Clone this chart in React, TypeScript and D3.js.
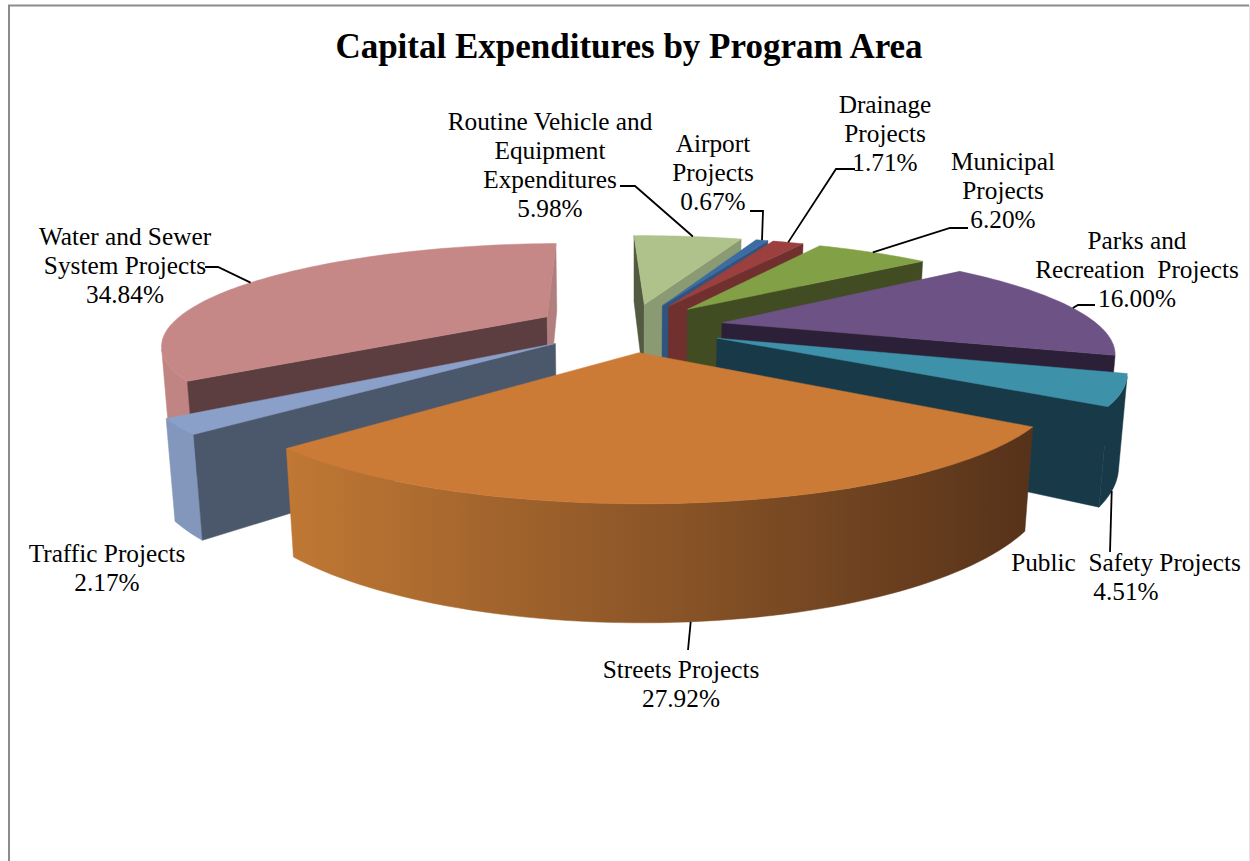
import React from "react";
import * as d3 from "d3";

const categories = [
  "Routine Vehicle and Equipment Expenditures",
  "Airport Projects",
  "Drainage Projects",
  "Municipal Projects",
  "Parks and Recreation  Projects",
  "Public  Safety Projects",
  "Streets Projects",
  "Traffic Projects",
  "Water and Sewer System Projects",
];
const percents = [5.98, 0.67, 1.71, 6.2, 16.0, 4.51, 27.92, 2.17, 34.84];
const labelLines = [
  ["Routine Vehicle and", "Equipment", "Expenditures"],
  ["Airport", "Projects"],
  ["Drainage", "Projects"],
  ["Municipal", "Projects"],
  ["Parks and", "Recreation  Projects"],
  ["Public  Safety Projects"],
  ["Streets Projects"],
  ["Traffic Projects"],
  ["Water and Sewer", "System Projects"],
];
const topColors = ["#b0c28c", "#3d6ba3", "#9b403e", "#82a046", "#6c5285", "#3d91a9", "#cb7b36", "#8aa0c8", "#c58886"];
const startWall = ["#525a40", "#2f5480", "#6f302e", "#414c22", "#2c2038", "#183a48", "#56321a", "#4b586c", "#5c3e40"];
const endWall = ["#8a9a72", "#2f5480", "#6f302e", "#414c22", "#2c2038", "#183a48", "#bb7433", "#4b586c", "#b17f7e"];
const rimWall = [
  ["#b0c28c", "#b0c28c"],
  ["#3d6ba3", "#3d6ba3"],
  ["#9b403e", "#9b403e"],
  ["#82a046", "#82a046"],
  ["#6c5285", "#6c5285"],
  ["#183a48", "#183a48"],
  ["#56321a", "#c07834"],
  ["#8297bb", "#8297bb"],
  ["#c08482", "#c08482"],
];

// label placement: centre x, first baseline, leader elbow points, nudge of the anchor
const labelBoxes = [
  { x: 550, y: 130, leader: [[620, 186], [635, 186]], nudge: 1, level: 0 },
  { x: 713, y: 152, leader: [[750, 211], [763, 211]], nudge: 0, level: 0 },
  { x: 885, y: 113, leader: [[855, 169], [836, 169]], nudge: 0, level: 0 },
  { x: 1003, y: 170, leader: [[968, 228], [950, 228]], nudge: 0, level: 0 },
  { x: 1137, y: 249, leader: [[1095, 305], [1078, 305]], nudge: 1, level: 0 },
  { x: 1126, y: 571, leader: [[1110, 552]], nudge: 1.5, level: 1 },
  { x: 681, y: 678, leader: [[688, 650]], nudge: -0.2, level: 1 },
  { x: 107, y: 562, leader: null, nudge: 0, level: 0 },
  { x: 125, y: 245, leader: [[205, 267], [218, 267]], nudge: -1.5, level: 0 },
];

const width = 1250;
const height = 861;
const rad = (deg: number) => (deg * Math.PI) / 180;

// camera for the tilted pie, radius = 1
const cx = 630;
const cy = 327;
const elevation = rad(14.8);
const camDist = 3.8;
const focal = 378 * camDist;
const explode = 0.25;
const thickness = 0.235;

const project = (x: number, y: number, z: number): [number, number] => {
  const w = y * Math.cos(elevation) + z * Math.sin(elevation);
  const u = z * Math.cos(elevation) - y * Math.sin(elevation);
  const s = focal / (camDist - w);
  return [cx + x * s, cy - u * s];
};

const shoelace = (p: [number, number][]) =>
  d3.sum(p, (d, i) => {
    const n = p[(i + 1) % p.length];
    return d[0] * n[1] - n[0] * d[1];
  });

const pie = d3
  .pie<number>()
  .sort(null)
  .startAngle(rad(-1.5))
  .endAngle(rad(358.5));
const line = d3.line();
const closed = (p: [number, number][]) => line(p) + "Z";

const slices = pie(percents).map((arc, i) => {
  const mid = (arc.startAngle + arc.endAngle) / 2;
  const ox = explode * Math.sin(mid);
  const oy = -explode * Math.cos(mid);
  const steps = Math.max(2, Math.ceil((arc.endAngle - arc.startAngle) / rad(1.5)));
  const angles = d3.range(steps + 1).map((k) => arc.startAngle + ((arc.endAngle - arc.startAngle) * k) / steps);
  const rimAt = (a: number, z: number) => project(ox + Math.sin(a), oy - Math.cos(a), z);
  const top = angles.map((a) => rimAt(a, 0));
  const bottom = angles.map((a) => rimAt(a, -thickness));
  const apexTop = project(ox, oy, 0);
  const apexBottom = project(ox, oy, -thickness);

  const quad = (a: [number, number], b: [number, number], c: [number, number], d: [number, number]) => [a, b, c, d] as [number, number][];
  const faces: { d: string; fill: string }[] = [];

  // outer wall, only the stretch that looks at the camera
  const visible = d3.range(steps).filter((k) => shoelace(quad(top[k], top[k + 1], bottom[k + 1], bottom[k])) < 0);
  if (visible.length) {
    const a = visible[0];
    const b = visible[visible.length - 1] + 1;
    const outline = [...top.slice(a, b + 1), ...bottom.slice(a, b + 1).reverse()];
    faces.push({ d: closed(outline), fill: `url(#rim-${i})` });
  }
  const first = quad(apexTop, top[0], bottom[0], apexBottom);
  if (shoelace(first) < 0) faces.push({ d: closed(first), fill: startWall[i] });
  const last = quad(top[steps], apexTop, apexBottom, bottom[steps]);
  if (shoelace(last) < 0) faces.push({ d: closed(last), fill: endWall[i] });
  faces.push({ d: closed([apexTop, ...top]), fill: topColors[i] });

  const box = labelBoxes[i];
  const anchor = rimAt(mid + rad(box.nudge), box.level ? -thickness : 0);
  const xs = d3.extent(top.concat(bottom), (d) => d[0]) as [number, number];
  return { i, oy, faces, anchor, xs };
});

const drawOrder = d3.range(slices.length).sort((a, b) => d3.ascending(slices[a].oy, slices[b].oy));
const lineStep = 29;
const serif = "'Liberation Serif', 'Times New Roman', serif";

export default function App() {
  return (
    <svg width={width} height={height} style={{ position: "absolute", left: 0, top: 0, display: "block", background: "#fff" }}>
      <defs>
        {slices.map((s) => (
          <linearGradient key={s.i} id={`rim-${s.i}`} gradientUnits="userSpaceOnUse" x1={s.xs[1]} x2={s.xs[0]} y1={0} y2={0}>
            <stop offset="0" stopColor={rimWall[s.i][0]} />
            <stop offset="1" stopColor={rimWall[s.i][1]} />
          </linearGradient>
        ))}
      </defs>

      <path d={`M9,${height}V5.5H${width - 1}`} fill="none" stroke="#8c8c8c" strokeWidth={2} />
      <path d={`M${width - 0.5},5V${height}`} fill="none" stroke="#e4e4e4" strokeWidth={1} />

      <text x={629} y={58} textAnchor="middle" fontFamily={serif} fontWeight="bold" fontSize={35} fill="#000">
        Capital Expenditures by Program Area
      </text>

      {drawOrder.map((idx) => (
        <g key={idx} data-name={categories[idx]}>
          {slices[idx].faces.map((f, k) => (
            <path key={k} d={f.d} fill={f.fill} stroke={f.fill} strokeWidth={0.5} />
          ))}
        </g>
      ))}

      {slices.map((s) => {
        const box = labelBoxes[s.i];
        if (!box.leader) return null;
        return (
          <path
            key={s.i}
            d={line([...(box.leader as [number, number][]), s.anchor]) as string}
            fill="none"
            stroke="#000"
            strokeWidth={1.8}
          />
        );
      })}

      {labelLines.map((lines, i) => (
        <text key={i} textAnchor="middle" fontFamily={serif} fontSize={25.3} fill="#000" style={{ whiteSpace: "pre" }}>
          {[...lines, percents[i].toFixed(2) + "%"].map((t, k) => (
            <tspan key={k} x={labelBoxes[i].x} y={labelBoxes[i].y + k * lineStep}>
              {t}
            </tspan>
          ))}
        </text>
      ))}
    </svg>
  );
}
